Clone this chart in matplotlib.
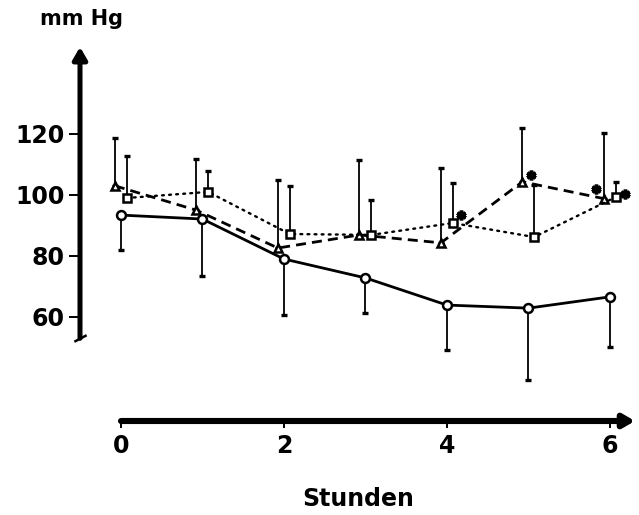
import matplotlib
matplotlib.use("Agg")
import matplotlib.pyplot as plt
import numpy as np
from matplotlib.transforms import ScaledTranslation

# ---- data ----
hours = [0, 1, 2, 3, 4, 5, 6]

circle_mean = [93.4, 92.1, 79.0, 72.8, 63.9, 62.9, 66.6]
circle_low = [82.0, 73.4, 60.7, 61.3, 49.2, 39.3, 50.2]

tri_mean = [103.0, 95.0, 82.6, 86.9, 84.3, 104.3, 98.8]
tri_high = [118.7, 111.8, 104.9, 111.5, 108.8, 122.0, 120.3]

sq_mean = [99.0, 101.0, 87.2, 86.9, 90.8, 86.2, 99.3]
sq_high = [112.8, 107.9, 103.0, 98.4, 104.0, 103.3, 104.3]

# significance stars: (series, index)
stars = [("sq", 4), ("tri", 5), ("tri", 6), ("sq", 6)]

yticks = [60, 80, 100, 120]
xticks = [0, 2, 4, 6]
ylabel = "mm Hg"
xlabel = "Stunden"

# ---- style / layout ----
off = {"circ": 0.0, "tri": -0.075, "sq": 0.07}
star_offsets = {("sq", 4): (6, 6), ("tri", 5): (6, 5), ("tri", 6): (-6, 7), ("sq", 6): (7, 2)}

fig = plt.figure(figsize=(6.39, 5.15), dpi=100)
ax = fig.add_axes([80/639, (515-421)/515, 555/639, 374/515])
ax.set_xlim(-0.503, 6.307)
ax.set_ylim(25.9, 148.5)
for s in ax.spines.values():
    s.set_visible(False)

h = np.array(hours, dtype=float)

def series(xs, mean, yerr, ls, lw, marker, ms, dashes=None):
    ax.errorbar(xs, mean, yerr=yerr, fmt='none', ecolor='black',
                elinewidth=1.3, capsize=2.4, capthick=2.4, zorder=2)
    kw = dict(color='black', lw=lw, marker=marker, ms=ms, mfc='white',
              mec='black', mew=1.8, zorder=3)
    line, = ax.plot(xs, mean, ls, **kw)
    if dashes is not None:
        line.set_dashes(dashes)
    return line

cm = np.array(circle_mean); tm = np.array(tri_mean); sm = np.array(sq_mean)
series(h + off["circ"], cm, [cm - np.array(circle_low), np.zeros_like(cm)],
       '-', 2.0, 'o', 6.4)
lt = series(h + off["tri"], tm, [np.zeros_like(tm), np.array(tri_high) - tm],
            '--', 2.0, '^', 6.0, dashes=(3.6, 2.2))
ls_ = series(h + off["sq"], sm, [np.zeros_like(sm), np.array(sq_high) - sm],
             ':', 1.7, 's', 6.0, dashes=(0.8, 2.2))
ls_.set_dash_capstyle('round')

for key in stars:
    name, i = key
    if name == "sq":
        x, y = h[i] + off["sq"], sm[i]
    else:
        x, y = h[i] + off["tri"], tm[i]
    dx, dy = star_offsets[key]
    tr = ax.transData + ScaledTranslation(dx/72, dy/72, fig.dpi_scale_trans)
    ax.plot([x], [y], marker=(6, 2, 0), ms=7, mew=2.6, color='black',
            transform=tr, zorder=4, clip_on=False)

# ticks
ax.set_yticks(yticks)
ax.set_xticks(xticks)
ax.tick_params(axis='y', direction='out', length=8, width=1.4, pad=3.2,
               labelsize=17)
ax.tick_params(axis='x', direction='out', length=5, width=1.4, pad=4.5,
               labelsize=17)
for lab in ax.get_xticklabels() + ax.get_yticklabels():
    lab.set_fontweight('bold')

# axis arrows
ybreak = 53.0
ax.annotate('', xy=(0, 1), xycoords='axes fraction',
            xytext=(-0.503, ybreak), textcoords='data',
            arrowprops=dict(arrowstyle='-|>,head_length=0.6,head_width=0.35',
                            lw=3.6, color='black', mutation_scale=12,
                            shrinkA=0, shrinkB=0),
            annotation_clip=False)
ax.annotate('', xy=(1, 0), xycoords='axes fraction',
            xytext=(0, 25.9), textcoords='data',
            arrowprops=dict(arrowstyle='-|>,head_length=0.55,head_width=0.32',
                            lw=4.4, color='black', mutation_scale=12,
                            shrinkA=0, shrinkB=0),
            annotation_clip=False)
# break mark on y axis
ax.plot([-0.503], [ybreak], marker=(2, 0, -62), ms=10, mew=1.8, color='black',
        clip_on=False, zorder=5)

fig.text(81/639, 1 - 19/515, ylabel, fontsize=15, fontweight='bold',
         ha='center', va='center')
fig.text(358/639, 1 - 499/515, xlabel, fontsize=17, fontweight='bold',
         ha='center', va='center')

fig.savefig("out.png", dpi=100)
